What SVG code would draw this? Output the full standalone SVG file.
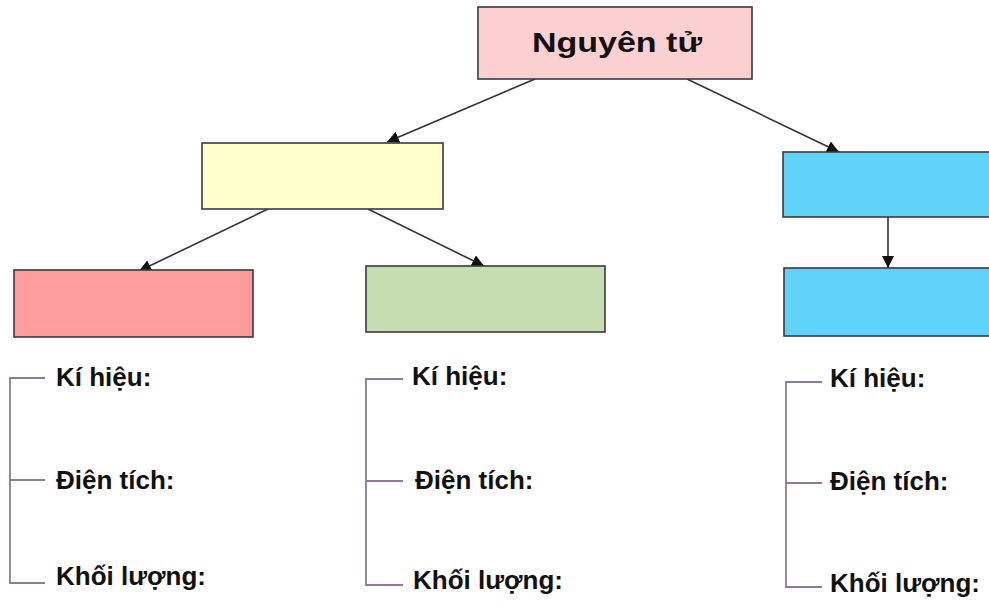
<svg xmlns="http://www.w3.org/2000/svg" width="989" height="607" viewBox="0 0 989 607">
<defs>
<marker id="ah" viewBox="0 0 10 10" refX="10" refY="5" markerWidth="12" markerHeight="12" markerUnits="userSpaceOnUse" orient="auto">
<path d="M0,0 L10,5 L0,10 z" fill="#111"/>
</marker>
<style>
.box{stroke:#3a3a3a;stroke-width:1.6}
.conn{stroke:#333;stroke-width:1.6;fill:none}
.br{stroke:#8c7a9c;stroke-width:1.8;fill:none}
.lbl{font-family:"Liberation Sans",Arial,sans-serif;font-weight:bold;font-size:26px;fill:#111}
.title{font-family:"Liberation Sans",Arial,sans-serif;font-weight:bold;font-size:28px;fill:#111}
</style>
</defs>
<rect width="989" height="607" fill="#ffffff"/>
<g id="connectors">
<line class="conn" x1="535" y1="79" x2="387" y2="142" marker-end="url(#ah)"/>
<line class="conn" x1="687" y1="79" x2="839" y2="152" marker-end="url(#ah)"/>
<line class="conn" x1="268" y1="209" x2="139" y2="271" marker-end="url(#ah)"/>
<line class="conn" x1="368" y1="209" x2="484" y2="266" marker-end="url(#ah)"/>
<line class="conn" x1="888" y1="217" x2="888" y2="268" marker-end="url(#ah)"/>
</g>
<g id="node-nguyentu">
<rect class="box" x="478" y="7" width="274" height="72" fill="#fccfd1"/>
<text class="title" x="532" y="52" textLength="170" lengthAdjust="spacingAndGlyphs">Nguyên tử</text>
</g>
<g id="node-yellow">
<rect class="box" x="202" y="143" width="241" height="66" fill="#ffffcc"/>
</g>
<g id="node-pink">
<rect class="box" x="14" y="270" width="239" height="67" fill="#ff9b9b"/>
</g>
<g id="node-green">
<rect class="box" x="366" y="266" width="239" height="66" fill="#c5ddb1"/>
</g>
<g id="node-blue1">
<rect class="box" x="783" y="152" width="215" height="65" fill="#5fd2f7"/>
</g>
<g id="node-blue2">
<rect class="box" x="784" y="268" width="215" height="68" fill="#5fd2f7"/>
</g>
<g id="list-left">
<path class="br" d="M45,378 H10 V583 H45 M10,480 H45"/>
<text class="lbl" x="56" y="386">Kí hiệu:</text>
<text class="lbl" x="56" y="489">Điện tích:</text>
<text class="lbl" x="56" y="585">Khối lượng:</text>
</g>
<g id="list-middle">
<path class="br" d="M403,379 H366 V585 H403 M366,481 H403"/>
<text class="lbl" x="412" y="385">Kí hiệu:</text>
<text class="lbl" x="415" y="489">Điện tích:</text>
<text class="lbl" x="413" y="589">Khối lượng:</text>
</g>
<g id="list-right">
<path class="br" d="M822,382 H786 V587 H822 M786,483 H822"/>
<text class="lbl" x="830" y="387">Kí hiệu:</text>
<text class="lbl" x="830" y="490">Điện tích:</text>
<text class="lbl" x="830" y="592">Khối lượng:</text>
</g>
</svg>
